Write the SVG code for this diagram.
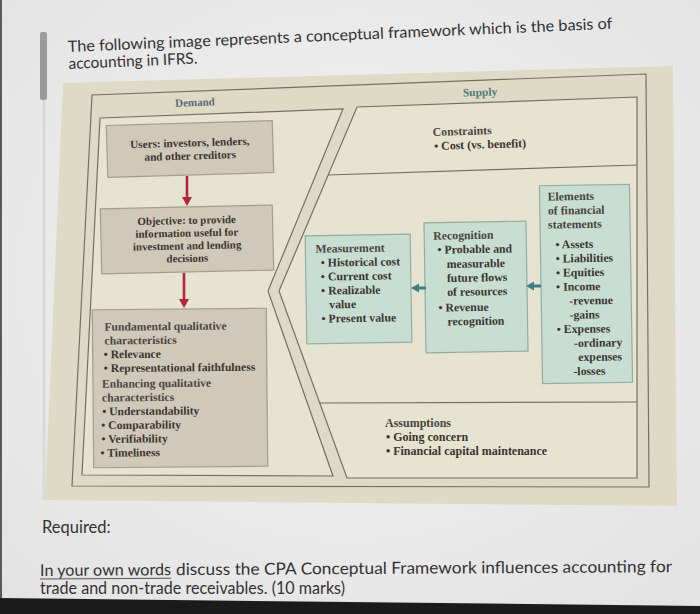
<svg xmlns="http://www.w3.org/2000/svg" width="700" height="614" viewBox="0 0 700 614">
<defs>
<radialGradient id="bg" cx="0.5" cy="0.45" r="0.75">
<stop offset="0" stop-color="#f3f3f3"/>
<stop offset="1" stop-color="#e2e2e2"/>
</radialGradient>
<style>
.page{font-family:Lato,"Open Sans","Liberation Sans",sans-serif;fill:#333333}
.frame{fill:none;stroke:#727166;stroke-width:1.2}
.inner{fill:#e7e3d1;stroke:#727166;stroke-width:1.2}
.div{stroke:#727166;stroke-width:1.2}
.grey{fill:#d0c8b8;stroke:#a39d8e;stroke-width:1.2}
.mint{fill:#c9ded2;stroke:#93ad9f;stroke-width:1.2}
.t{font-family:"Liberation Serif","Times New Roman",serif;font-size:11.8px;font-weight:bold;fill:#3a3530}
.h{fill:#4a4540}
.s1{font-size:11.2px}
.s2{font-size:10.9px}
.s3{font-size:11.6px}
.s4{font-size:12px}
.c{text-anchor:middle}
.lbl{font-family:"Liberation Serif","Times New Roman",serif;font-weight:bold;text-anchor:middle}
.red{stroke:#b3263a;stroke-width:2.6;fill:none}
.redh{fill:#b3263a}
.teal{stroke:#3e7f86;stroke-width:3;fill:none}
.tealh{fill:#3e7f86}
</style>
</defs>
<rect x="0" y="0" width="700" height="614" fill="url(#bg)"/>
<rect x="0" y="0" width="2" height="614" fill="#5a5a5a"/>
<polygon points="0,598 700,606 700,614 0,614" fill="#1b1b1b"/>
<rect x="40" y="32" width="7" height="68" rx="2" fill="#9b9b9b"/>
<line x1="44" y1="100" x2="44" y2="500" stroke="#d9d9d9" stroke-width="3"/>

<g id="title" class="page" font-size="15.6" transform="rotate(-2.45 68 52)">
<text x="68" y="52" textLength="545" lengthAdjust="spacingAndGlyphs">The following image represents a conceptual framework which is the basis of</text>
<text x="68" y="69" textLength="129" lengthAdjust="spacingAndGlyphs">accounting in IFRS.</text>
</g>

<polygon id="panel" points="63,83 673,66 677,506 45,500" fill="#dfdac5"/>

<g id="frames">
<polygon class="frame" points="92,95 646,74 649,487 72,486"/>
<polygon id="demand-region" class="inner" points="100,118 343,109 268,291 333,476 82,475"/>
<polygon id="supply-region" class="inner" points="357,107 637,97 637,478 347,478 279,291"/>
<line class="div" x1="328" y1="175" x2="637" y2="165"/>
<line class="div" x1="320" y1="403" x2="637" y2="402"/>
</g>

<g id="demand-label" transform="rotate(-1.9 195 103)"><text class="lbl" x="195" y="106" font-size="11" fill="#5b6a78">Demand</text></g>
<g id="supply-label" transform="rotate(-1.9 480 92)"><text class="lbl" x="480" y="96" font-size="11.5" fill="#4f7a7a">Supply</text></g>

<g id="users" transform="rotate(-1.7 190 149)">
<rect class="grey" x="107" y="123" width="166" height="52"/>
<text class="t s1 c" x="190" y="146.5">Users: investors, lenders,</text>
<text class="t s1 c" x="190" y="159.5">and other creditors</text>
</g>

<g id="objective" transform="rotate(-1.3 187 240)">
<rect class="grey" x="101" y="207" width="172" height="65"/>
<text class="t s2 c" x="187" y="224">Objective: to provide</text>
<text class="t s2 c" x="187" y="236.7">information useful for</text>
<text class="t s2 c" x="187" y="249.4">investment and lending</text>
<text class="t s2 c" x="187" y="262">decisions</text>
</g>

<g id="qualitative" transform="rotate(-0.5 180 388)">
<rect class="grey" x="93" y="309" width="174" height="158"/>
<text class="t s3 h" x="105" y="330">Fundamental qualitative</text>
<text class="t s3 h" x="105" y="343.8">characteristics</text>
<text class="t s3" x="104" y="357.6">• Relevance</text>
<text class="t s3" x="104" y="371.4">• Representational faithfulness</text>
<text class="t s3 h" x="102" y="387">Enhancing qualitative</text>
<text class="t s3 h" x="102" y="400.8">characteristics</text>
<text class="t s3" x="102" y="414.6">• Understandability</text>
<text class="t s3" x="101" y="428.4">• Comparability</text>
<text class="t s3" x="101" y="442.2">• Verifiability</text>
<text class="t s3" x="100" y="456">• Timeliness</text>
</g>

<g id="constraints" transform="rotate(-1.8 480 140)">
<text class="t h" x="433" y="134.5">Constraints</text>
<text class="t" x="434" y="148.5">• Cost (vs. benefit)</text>
</g>

<g id="measurement" transform="rotate(-0.9 358 289)">
<rect class="mint" x="306" y="235" width="105" height="108"/>
<text class="t h" x="316" y="252">Measurement</text>
<text class="t" x="321" y="266">• Historical cost</text>
<text class="t" x="321" y="280">• Current cost</text>
<text class="t" x="321" y="294">• Realizable</text>
<text class="t" x="329" y="308">value</text>
<text class="t" x="321" y="322">• Present value</text>
</g>

<g id="recognition" transform="rotate(-0.9 476 287)">
<rect class="mint" x="425" y="222" width="102" height="130"/>
<text class="t h" x="434" y="239">Recognition</text>
<text class="t" x="438" y="253">• Probable and</text>
<text class="t" x="447" y="267.5">measurable</text>
<text class="t" x="447" y="281.5">future flows</text>
<text class="t" x="447" y="295.5">of resources</text>
<text class="t" x="438" y="311">• Revenue</text>
<text class="t" x="447" y="325">recognition</text>
</g>

<g id="elements" transform="rotate(-0.9 586 284)">
<rect class="mint" x="541" y="185" width="90" height="198"/>
<text class="t h" x="549" y="200">Elements</text>
<text class="t h" x="549" y="214">of financial</text>
<text class="t h" x="549" y="228">statements</text>
<text class="t" x="556" y="248">• Assets</text>
<text class="t" x="556" y="262.1">• Liabilities</text>
<text class="t" x="556" y="276.2">• Equities</text>
<text class="t" x="556" y="290.3">• Income</text>
<text class="t" x="569" y="304.4">-revenue</text>
<text class="t" x="569" y="318.6">-gains</text>
<text class="t" x="556" y="332.7">• Expenses</text>
<text class="t" x="573" y="346.8">-ordinary</text>
<text class="t" x="577" y="360.9">expenses</text>
<text class="t" x="572" y="375">-losses</text>
</g>

<g id="assumptions">
<text class="t s4 h" x="385" y="427">Assumptions</text>
<text class="t s4" x="386" y="441">• Going concern</text>
<text class="t s4" x="386" y="455.2">• Financial capital maintenance</text>
</g>

<g id="connectors">
<line class="red" x1="187" y1="176" x2="187" y2="199"/>
<polygon class="redh" points="182,197 192,197 187,206"/>
<line class="red" x1="184" y1="273" x2="184" y2="300"/>
<polygon class="redh" points="179,299 189,299 184,308"/>
<line class="teal" x1="418" y1="288" x2="426" y2="288"/>
<polygon class="tealh" points="411,288 419,283.5 419,292.5"/>
<line class="teal" x1="533" y1="286" x2="541" y2="286"/>
<polygon class="tealh" points="526,286 534,281.5 534,290.5"/>
</g>

<g id="question" class="page">
<text x="42" y="533" font-size="16.5">Required:</text>
<g transform="rotate(-0.35 40 576)">
<text x="40" y="576" font-size="16.3" textLength="131" lengthAdjust="spacingAndGlyphs">In your own words</text>
<text x="176" y="576" font-size="16.6" textLength="496" lengthAdjust="spacingAndGlyphs">discuss the CPA Conceptual Framework influences accounting for</text>
<line x1="40" y1="579" x2="171" y2="579" stroke="#555" stroke-width="1"/>
</g>
<text x="40" y="594" font-size="16.3" textLength="305" lengthAdjust="spacingAndGlyphs">trade and non-trade receivables. (10 marks)</text>
</g>
</svg>
